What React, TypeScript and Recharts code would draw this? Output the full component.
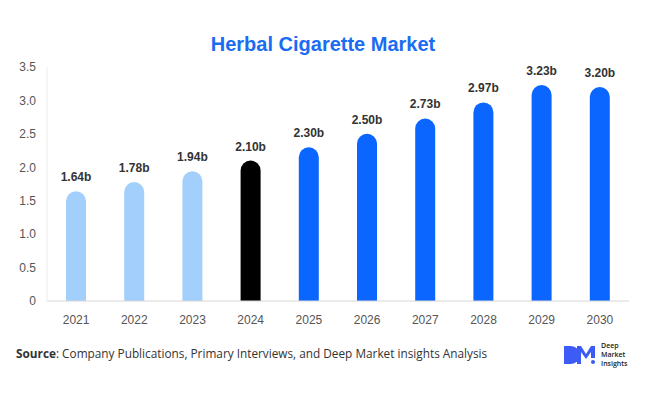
import { BarChart, Bar, XAxis, YAxis, Cell, LabelList } from "recharts";

const years = ["2021", "2022", "2023", "2024", "2025", "2026", "2027", "2028", "2029", "2030"];
const marketSize = [1.64, 1.78, 1.94, 2.1, 2.3, 2.5, 2.73, 2.97, 3.23, 3.2];
const barColors = [
  "#a3cffd", "#a3cffd", "#a3cffd",
  "#000000",
  "#0a66ff", "#0a66ff", "#0a66ff", "#0a66ff", "#0a66ff", "#0a66ff",
];
const yTicks = [0, 0.5, 1, 1.5, 2, 2.5, 3, 3.5];

const data = years.map((year, i) => ({ year, value: marketSize[i], color: barColors[i] }));

const fmtTick = (v: number) => (v === 0 ? "0" : v.toFixed(1));

export default function App() {
  return (
    <div
      style={{
        position: "absolute",
        left: 0,
        top: 0,
        width: 646,
        height: 394,
        background: "#fff",
        fontFamily: "'Liberation Sans', Arial, sans-serif",
      }}
    >
      <div
        style={{
          position: "absolute",
          top: 33,
          width: 646,
          textAlign: "center",
          fontSize: 20,
          fontWeight: 700,
          color: "#1a6cf2",
        }}
      >
        Herbal Cigarette Market
      </div>

      <BarChart
        width={646}
        height={394}
        data={data}
        margin={{ top: 67, right: 17, left: 0, bottom: 63 }}
      >
        <XAxis
          dataKey="year"
          tickLine={false}
          axisLine={{ stroke: "#d6d6d6" }}
          tick={{ fill: "#555", fontSize: 12 }}
          tickMargin={8}
          height={30}
        />
        <YAxis
          width={47}
          domain={[0, 3.5]}
          ticks={yTicks}
          tickFormatter={fmtTick}
          tickLine={false}
          axisLine={{ stroke: "#ececec" }}
          tick={{ fill: "#555", fontSize: 12 }}
          tickMargin={5}
          interval={0}
        />
        <Bar dataKey="value" barSize={20} radius={[10, 10, 0, 0]} isAnimationActive={false}>
          {data.map((d) => (
            <Cell key={d.year} fill={d.color} />
          ))}
          <LabelList
            dataKey="value"
            position="top"
            offset={10}
            formatter={(v: any) => `${Number(v).toFixed(2)}b`}
            style={{ fill: "#333", fontSize: 12, fontWeight: 700 }}
          />
        </Bar>
      </BarChart>

      <div
        style={{
          position: "absolute",
          left: 16,
          top: 345,
          fontSize: 11.8,
          color: "#333",
          fontFamily: "'Open Sans', sans-serif",
        }}
      >
        <span style={{ fontWeight: 700 }}>Source</span>: Company Publications, Primary Interviews, and Deep Market insights Analysis
      </div>

      {/* logo */}
      <div style={{ position: "absolute", left: 563, top: 341, display: "flex", alignItems: "center" }}>
        <svg width={36} height={22} viewBox="0 0 36 22">
          <path d="M1 2 h7 a9 9 0 0 1 0 18 h-7 z" fill="#3d5cf5" />
          <path d="M14 20 V2 h4 l5 8 l5 -8 h4 v12 h-4 v-6 l-5 7 l-5 -7 v12 z" fill="#3d5cf5" />
          <circle cx={30} cy={18} r={2} fill="#3d5cf5" />
        </svg>
        <div style={{ fontSize: 7, lineHeight: "9px", color: "#222", marginLeft: 2, fontFamily: "'Open Sans', sans-serif", fontWeight: 600 }}>
          Deep
          <br />
          Market
          <br />
          Insights
        </div>
      </div>
    </div>
  );
}
